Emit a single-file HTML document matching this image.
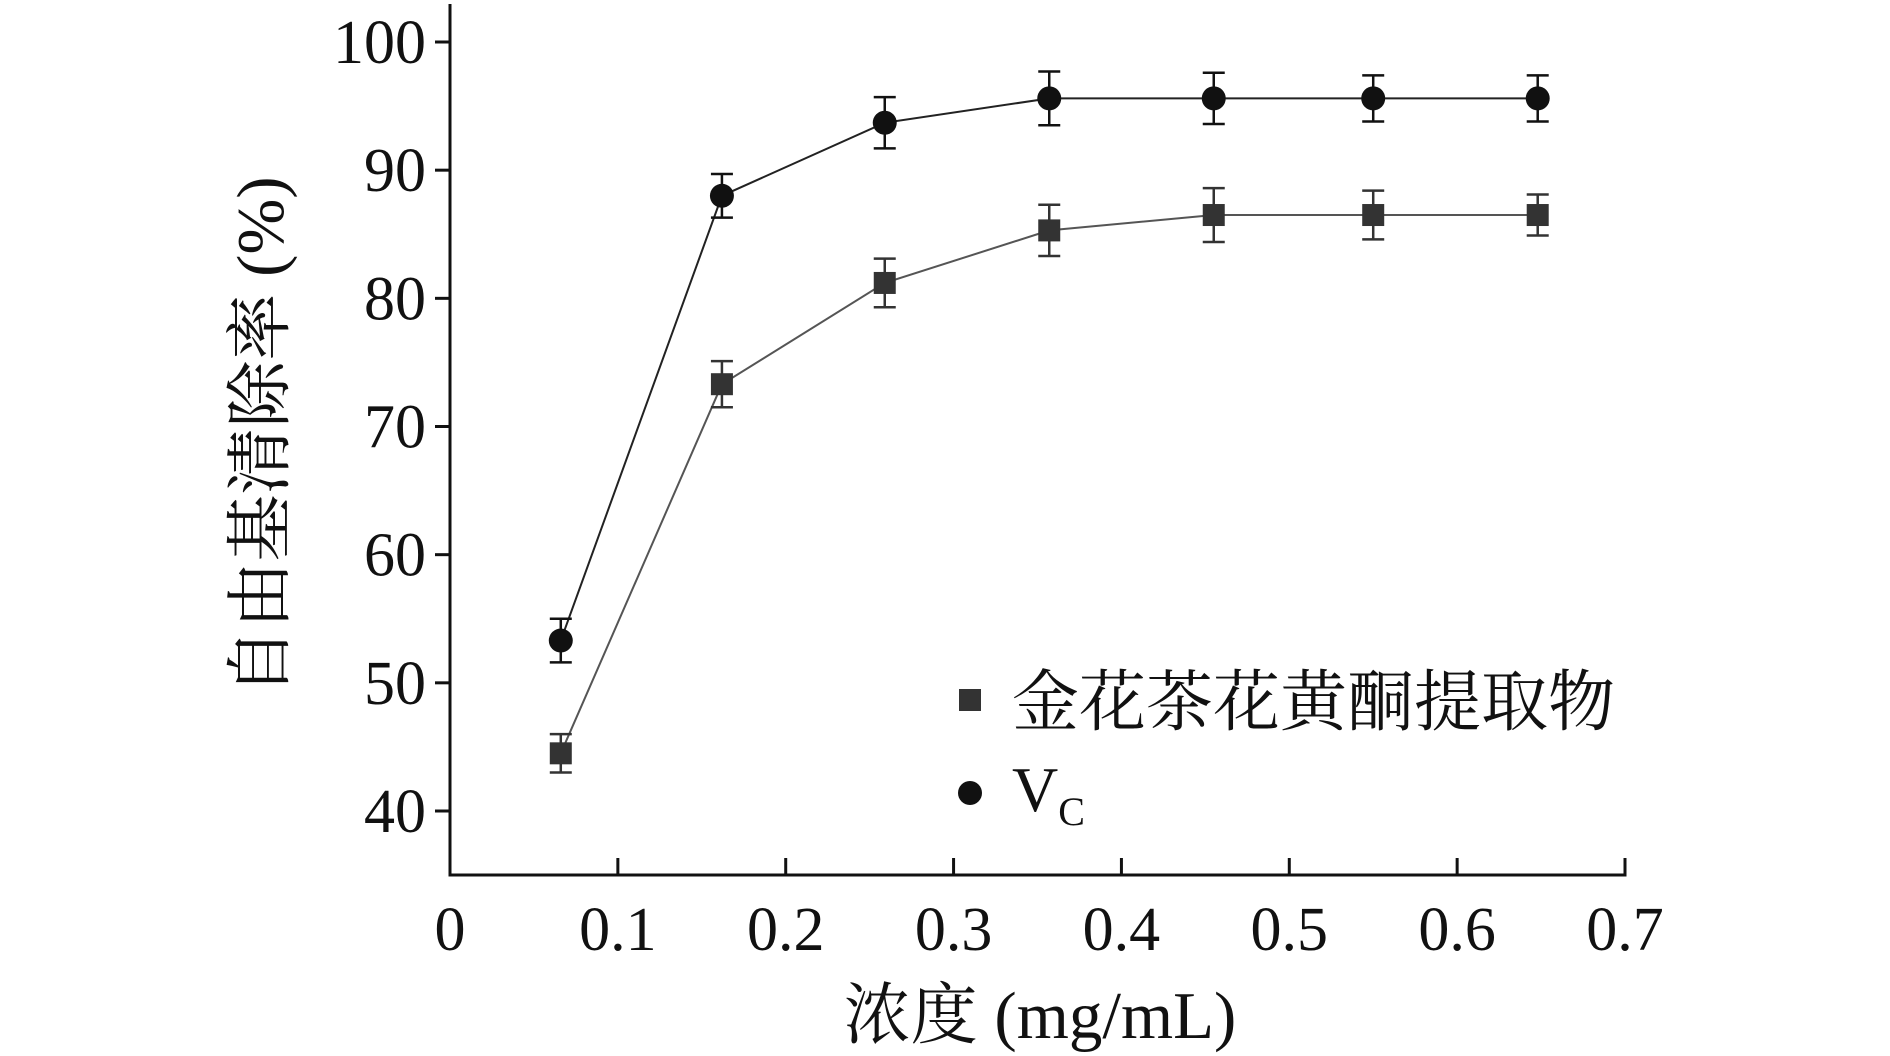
<!DOCTYPE html>
<html><head><meta charset="utf-8"><style>
html,body{margin:0;padding:0;background:#fff}
svg{display:block}
text{font-family:"Liberation Serif","Noto Serif CJK SC","Noto Sans CJK SC",serif;fill:#111}
</style></head><body>
<svg id="chart" width="1890" height="1056" viewBox="0 0 1890 1056"></svg>
<script>
const xValues=[0.066,0.162,0.259,0.357,0.455,0.550,0.648];
const vcValues=[53.3,88.0,93.7,95.6,95.6,95.6,95.6];
const vcErrors=[1.7,1.7,2.0,2.1,2.0,1.8,1.8];
const extractValues=[44.5,73.3,81.2,85.3,86.5,86.5,86.5];
const extractErrors=[1.5,1.8,1.9,2.0,2.1,1.9,1.6];
const xTicks=[0,0.1,0.2,0.3,0.4,0.5,0.6,0.7];
const xTickLabels=["0","0.1","0.2","0.3","0.4","0.5","0.6","0.7"];
const yTicks=[40,50,60,70,80,90,100];
const yTickLabels=["40","50","60","70","80","90","100"];

const NS="http://www.w3.org/2000/svg";
const svg=document.getElementById('chart');
const X0=450,X1=1625,Y40=811,Y100=42;
const sx=v=>X0+(v/0.7)*(X1-X0);
const sy=v=>Y40+(v-40)*(Y100-Y40)/60;
const AXY=875;
function mk(tag,attrs,parent){const e=document.createElementNS(NS,tag);for(const k in attrs)e.setAttribute(k,attrs[k]);(parent||svg).appendChild(e);return e;}

let ya=mk('line',{x1:X0,y1:4,x2:X0,y2:AXY+1.5,stroke:'#111','stroke-width':3});


let xa=mk('line',{x1:X0-1.5,y1:AXY,x2:X1+1.5,y2:AXY,stroke:'#111','stroke-width':3});



xTicks.forEach((t,i)=>{
  if(i>0){let l=mk('line',{x1:sx(t),y1:AXY,x2:sx(t),y2:AXY-17,stroke:'#111','stroke-width':3});
  
  }
  let tx=mk('text',{x:sx(t),y:950,'text-anchor':'middle','font-size':62});
  tx.textContent=xTickLabels[i];
  
  
});
yTicks.forEach((t,i)=>{
  let l=mk('line',{x1:X0-15,y1:sy(t),x2:X0,y2:sy(t),stroke:'#111','stroke-width':3});
  
  
  let tx=mk('text',{x:426,y:sy(t)+21,'text-anchor':'end','font-size':62});
  tx.textContent=yTickLabels[i];
  
  
});

let xt=mk('text',{x:1040,y:1038,'text-anchor':'middle','font-size':67});
xt.textContent='浓度 (mg/mL)';


let yt=mk('text',{x:0,y:0,'text-anchor':'middle','font-size':67,transform:'translate(283,436) rotate(-90)'});
yt.textContent='自由基清除率 (%)';



function series(vals,errs,color,lineColor,shape,name){
  const g=mk('g',{});
  
  
  const pl=mk('polyline',{points:vals.map((v,i)=>sx(xValues[i])+','+sy(v)).join(' '),fill:'none',stroke:lineColor,'stroke-width':2},g);
  
  
  vals.forEach((v,i)=>{
    const x=sx(xValues[i]),yt=sy(v+errs[i]),yb=sy(v-errs[i]);
    const eb=mk('path',{d:`M${x},${yt}V${yb}M${x-11},${yt}H${x+11}M${x-11},${yb}H${x+11}`,stroke:color,'stroke-width':2.5,fill:'none'},g);
    
    
    let m;
    if(shape==='circle')m=mk('circle',{cx:x,cy:sy(v),r:12,fill:color},g);
    else m=mk('rect',{x:x-11,y:sy(v)-11,width:22,height:22,fill:color},g);
    
    
  });
}
series(extractValues,extractErrors,'#333','#555','square','extract');
series(vcValues,vcErrors,'#111','#222','circle','vc');

const lg=mk('g',{});


let r=mk('rect',{x:959,y:689,width:22,height:22,fill:'#333'},lg);


let t1=mk('text',{x:1012,y:725,'font-size':67},lg);
t1.textContent='金花茶花黄酮提取物';


let c=mk('circle',{cx:970,cy:793,r:12,fill:'#111'},lg);


let t2=mk('text',{x:1012,y:811,'font-size':64},lg);
t2.innerHTML='V<tspan font-size="40" dy="14">C</tspan>';


</script>
</body></html>
